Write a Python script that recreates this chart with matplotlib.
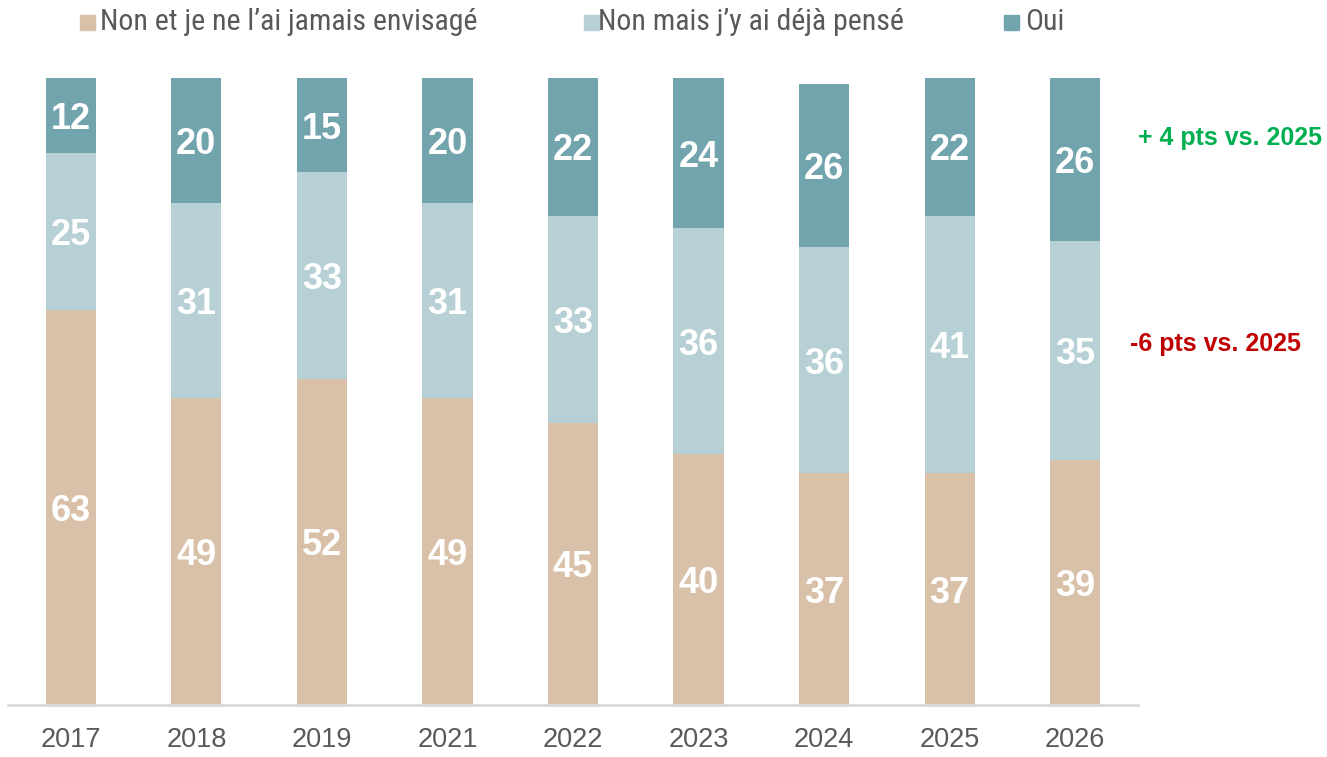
import matplotlib
matplotlib.use("Agg")
import matplotlib.pyplot as plt
from matplotlib.patches import Rectangle
from matplotlib import font_manager

years = ["2017", "2018", "2019", "2021", "2022", "2023", "2024", "2025", "2026"]
never = [63, 49, 52, 49, 45, 40, 37, 37, 39]
thought = [25, 31, 33, 31, 33, 36, 36, 41, 35]
yes = [12, 20, 15, 20, 22, 24, 26, 22, 26]
series_names = ["Non et je ne l\u2019ai jamais envisagé", "Non mais j\u2019y ai déjà pensé", "Oui"]
note_yes = "+ 4 pts vs. 2025"
note_never = "-6 pts vs. 2025"

c_never = "#D8C1A8"
c_thought = "#B6D0D5"
c_yes = "#72A4AE"
grey_txt = "#595959"

installed = {f.name for f in font_manager.fontManager.ttflist}
narrow = next((f for f in ["Roboto Condensed", "Liberation Sans Narrow", "Open Sans Condensed"]
               if f in installed), "Liberation Sans")
plt.rcParams["font.family"] = ["Liberation Sans", "DejaVu Sans"]

W, H = 1327, 757
fig = plt.figure(figsize=(W / 100, H / 100), dpi=100)
ax = fig.add_axes([8 / W, 1 - 705 / H, 1130 / W, 627 / H])

x = list(range(len(years)))
bw = 0.4
bottom2 = never
bottom3 = [a + b for a, b in zip(never, thought)]
layers = [(never, [0] * len(never), c_never),
          (thought, bottom2, c_thought),
          (yes, bottom3, c_yes)]

for vals, base, col in layers:
    ax.bar(x, vals, bw, bottom=base, color=col)
    for xi, v, b in zip(x, vals, base):
        ax.text(xi, b + v / 2, f"{v}", ha="center", va="center_baseline",
                color="white", fontsize=26, fontweight="bold")

ax.set_xlim(-0.5, len(years) - 0.5)
ax.set_ylim(0, 100)
ax.set_xticks(x)
ax.set_xticklabels(years, fontsize=19.5, color=grey_txt)
ax.tick_params(axis="x", length=0, pad=16)
ax.set_yticks([])
for s in ("top", "right", "left"):
    ax.spines[s].set_visible(False)
ax.spines["bottom"].set_color("#D9D9D9")
ax.spines["bottom"].set_linewidth(2)

# legend drawn along the top
legend_items = [(80, 100, c_never, series_names[0]),
                (584, 598, c_thought, series_names[1]),
                (1004, 1025, c_yes, series_names[2])]
for sx, tx, col, name in legend_items:
    fig.add_artist(Rectangle((sx / W, 1 - 30 / H), 15 / W, 15 / H,
                             transform=fig.transFigure, color=col))
    fig.text(tx / W, 1 - 22 / H, name, fontsize=21.5, color=grey_txt,
             family=[narrow, "DejaVu Sans"], va="center", ha="left")

fig.text(1230 / W, 1 - 135 / H, note_yes, fontsize=18, fontweight="bold",
         color="#00B050", ha="center", va="center_baseline")
fig.text(1215 / W, 1 - 342 / H, note_never, fontsize=18, fontweight="bold",
         color="#C00000", ha="center", va="center_baseline")

fig.savefig("out.png", dpi=100)
